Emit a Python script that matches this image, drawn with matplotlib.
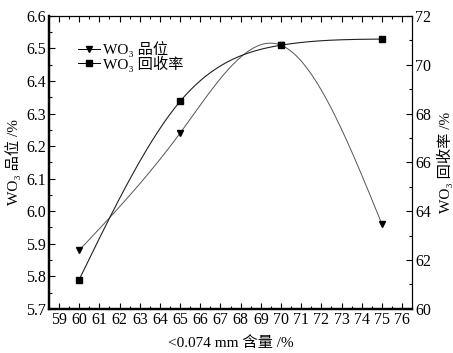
import numpy as np
import matplotlib.pyplot as plt
from matplotlib.ticker import MultipleLocator

# datos
fineness = [60, 65, 70, 75]
grade = [5.88, 6.24, 6.51, 5.96]          # WO3 品位 /%
recovery = [61.2, 68.5, 70.8, 71.05]      # WO3 回收率 /%

FAM = ['Liberation Serif', 'DejaVu Serif', 'Noto Sans CJK SC']
plt.rcParams['font.family'] = FAM


def spline(x, y, n=200):
    # spline cubico natural, solo para dibujar la curva suave
    x = np.asarray(x, float)
    y = np.asarray(y, float)
    k = len(x)
    h = np.diff(x)
    A = np.zeros((k, k))
    b = np.zeros(k)
    A[0, 0] = A[-1, -1] = 1
    for i in range(1, k - 1):
        A[i, i - 1] = h[i - 1]
        A[i, i] = 2 * (h[i - 1] + h[i])
        A[i, i + 1] = h[i]
        b[i] = 6 * ((y[i + 1] - y[i]) / h[i] - (y[i] - y[i - 1]) / h[i - 1])
    M = np.linalg.solve(A, b)
    xs = np.linspace(x[0], x[-1], n)
    idx = np.clip(np.searchsorted(x, xs) - 1, 0, k - 2)
    x0, x1 = x[idx], x[idx + 1]
    hh = x1 - x0
    t0, t1 = x1 - xs, xs - x0
    ys = (M[idx] * t0**3 + M[idx + 1] * t1**3) / (6 * hh) \
        + (y[idx] / hh - M[idx] * hh / 6) * t0 + (y[idx + 1] / hh - M[idx + 1] * hh / 6) * t1
    return xs, ys


fig = plt.figure(figsize=(4.53, 3.53), dpi=100)
ax = fig.add_axes([0.108, 0.125, 0.802, 0.830])
ax2 = ax.twinx()

gx, gy = spline(fineness, grade)
rx, ry = spline(fineness, recovery)
ax.plot(gx, gy, color='#555555', lw=0.7)
ax.plot(fineness, grade, 'v', color='black', ms=5, ls='none')
ax2.plot(rx, ry, color='#222222', lw=0.8)
ax2.plot(fineness, recovery, 's', color='black', ms=4.5, ls='none')

ax.set_xlim(58.5, 76.5)
ax.set_ylim(5.7, 6.6)
ax2.set_ylim(60, 72)

ax.xaxis.set_major_locator(MultipleLocator(1))
ax.xaxis.set_minor_locator(MultipleLocator(0.5))
ax.yaxis.set_major_locator(MultipleLocator(0.1))
ax.yaxis.set_minor_locator(MultipleLocator(0.05))
ax2.yaxis.set_major_locator(MultipleLocator(2))
ax2.yaxis.set_minor_locator(MultipleLocator(1))

ax.tick_params(axis='both', which='both', direction='in', labelsize=11.5, top=True, pad=2)
ax.tick_params(which='major', length=4, width=0.8)
ax.tick_params(which='minor', length=2, width=0.8)
ax2.tick_params(axis='y', which='both', direction='in', labelsize=11.5, pad=2)
ax2.tick_params(which='major', length=4, width=0.8)
ax2.tick_params(which='minor', length=2, width=0.8)

for s in ['left', 'bottom']:
    ax.spines[s].set_linewidth(1.6)
    ax2.spines[s].set_linewidth(1.6)
for s in ['top', 'right']:
    ax.spines[s].set_linewidth(0.8)
    ax2.spines[s].set_linewidth(0.8)

ax.set_xlabel('<0.074 mm 含量 /%', fontsize=11, labelpad=6)
ax.set_ylabel('WO₃ 品位 /%', fontsize=11, labelpad=4)
ax2.set_ylabel('WO₃ 回收率 /%', fontsize=11, labelpad=4)

h1, = ax.plot([], [], marker='v', color='black', ms=5, lw=0.7)
h2, = ax.plot([], [], marker='s', color='black', ms=4.5, lw=0.7)
ax.legend([h1, h2], ['WO₃ 品位', 'WO₃ 回收率'], loc='upper left',
          bbox_to_anchor=(0.06, 0.94), frameon=False, fontsize=11,
          handlelength=1.4, handletextpad=0.2, labelspacing=-0.1, borderpad=0)

fig.savefig('out.png', dpi=100)
